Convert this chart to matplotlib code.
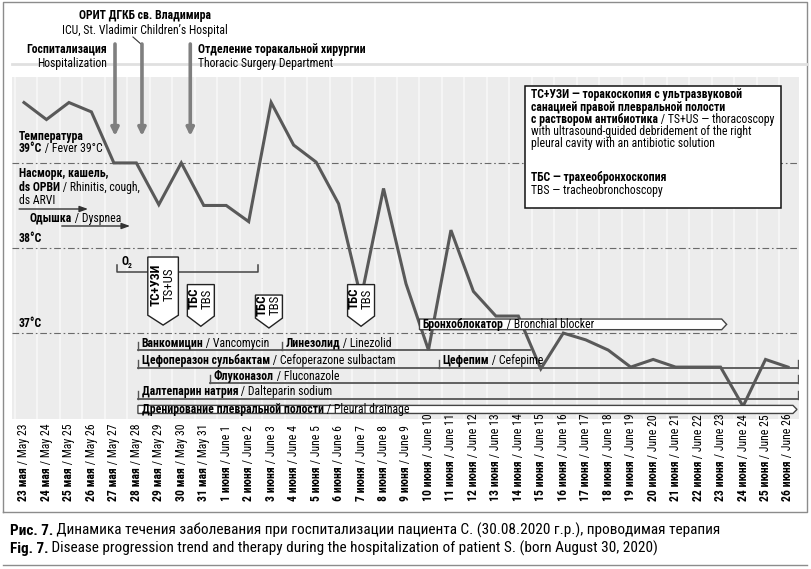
import matplotlib
matplotlib.use('Agg')
import matplotlib.pyplot as plt
from matplotlib import font_manager
from matplotlib.patches import Polygon, Rectangle
from matplotlib.transforms import blended_transform_factory

names = {f.name for f in font_manager.fontManager.ttflist}
if 'Liberation Sans Narrow' in names:
    FONT = 'Liberation Sans Narrow'
elif 'Roboto Condensed' in names:
    FONT = 'Roboto Condensed'
else:
    FONT = 'Liberation Sans'
plt.rcParams['font.family'] = [FONT, 'DejaVu Sans']
plt.rcParams['hatch.color'] = '#d3d3d3'
plt.rcParams['hatch.linewidth'] = 0.6

# ---------------- data ----------------
may_days = list(range(23, 32))
june_days = list(range(1, 27))
dates_ru = [f'{d} мая' for d in may_days] + [f'{d} июня' for d in june_days]
dates_en = [f'May {d}' for d in may_days] + [f'June {d}' for d in june_days]

temperature = [39.71, 39.51, 39.71, 39.60, 39.00, 39.00, 38.51, 39.00, 38.50,
               38.50, 38.31, 39.71, 39.21, 39.01, 38.52, 37.41, 38.70, 37.58,
               36.80, 38.21, 37.49, 37.20, 37.20, 36.58, 37.00, 36.92, 36.80,
               36.60, 36.69, 36.60, 36.60, 36.60, 36.14, 36.69, 36.60]

ref_temps = [39, 38, 37]

event_ru = ['Госпитализация', 'ОРИТ ДГКБ св. Владимира', 'Отделение торакальной хирургии']
event_en = ['Hospitalization', 'ICU, St. Vladimir Children\u2019s Hospital', 'Thoracic Surgery Department']
event_day = [4.05, 5.25, 7.40]

proc_ru = ['ТС+УЗИ', 'ТБС', 'ТБС', 'ТБС']
proc_en = ['TS+US', 'TBS', 'TBS', 'TBS']
proc_day = [6.19, 7.87, 10.90, 15.00]

o2_span = (4.14, 10.41)
rhinitis_span = (-0.22, 2.85)
dyspnea_span = (1.68, 4.72)
blocker_span = (17.60, 31.27)

therapy_ru = ['Ванкомицин', 'Линезолид', 'Цефоперазон сульбактам', 'Цефепим',
              'Флуконазол', 'Далтепарин натрия']
therapy_en = ['Vancomycin', 'Linezolid', 'Cefoperazone sulbactam', 'Cefepime',
              'Fluconazole', 'Dalteparin sodium']
therapy_start = [5.07, 11.47, 5.07, 18.47, 8.28, 5.07]
therapy_end = [11.47, 22.52, 18.47, 34.45, 34.45, 34.45]
therapy_row = [0, 0, 1, 1, 2, 3]
drainage_span = (5.07, 34.40)

# ---------------- layout ----------------
W, H = 812, 569
fig = plt.figure(figsize=(W / 100, H / 100), dpi=100)
fig.patch.set_facecolor('white')

ax = fig.add_axes([12 / W, 1 - 419 / H, (799 - 12) / W, (419 - 77) / H])
ax.set_xlim(-0.534, 34.49)
ax.set_ylim(35.99, 40.01)
ax.patch.set_facecolor('#ececec')
ax.patch.set_hatch('//////')
for s in ax.spines.values():
    s.set_visible(False)
ax.set_xticks([])
ax.set_yticks([])

n = len(temperature)
xs = list(range(n))
for d in xs:
    ax.axvline(d - 0.4, color='#f6f6f6', lw=1.3, zorder=0.5)

for t in ref_temps:
    ax.axhline(t, color='#6a6a6a', lw=0.8, ls=(0, (6, 2.5, 1.5, 2.5)), zorder=1)

ax.plot(xs, temperature, color='#595959', lw=2.2, zorder=3, solid_joinstyle='miter')

CH = 8.5  # chart font size
MK = 9.3  # marker font size
px_y = 1 / 85.0  # data units per pixel (vertical)

# procedure markers
for i, (ru, en, d) in enumerate(zip(proc_ru, proc_en, proc_day)):
    if i == 0:
        top, sh, tip, hw = 37.894, 37.21, 37.094, 0.68
    elif i == 2:
        top, sh, tip, hw = 37.447, 37.176, 37.06, 0.60
    else:
        top, sh, tip, hw = 37.57, 37.20, 37.08, 0.60
    poly = Polygon([(d - hw, top), (d + hw, top), (d + hw, sh), (d, tip), (d - hw, sh)],
                   closed=True, facecolor='white', edgecolor='#222', lw=1.0, zorder=5)
    ax.add_patch(poly)
    yc = (top + sh) / 2 + 0.02
    ax.text(d - 0.29, yc, ru, rotation=90, ha='center', va='center', fontsize=MK,
            fontweight='bold', zorder=6)
    ax.text(d + 0.27, yc, en, rotation=90, ha='center', va='center', fontsize=MK, zorder=6)

# O2 bracket
o2y = 37.72
ax.plot([o2_span[0], o2_span[0], o2_span[1], o2_span[1]],
        [o2y + 7 * px_y, o2y, o2y, o2y + 7 * px_y], color='#444', lw=1.1, zorder=2)
ax.text(o2_span[0] + 0.18, o2y + 10 * px_y, 'O', fontsize=CH, fontweight='bold', va='center', zorder=2)
ax.text(o2_span[0] + 0.48, o2y + 6.5 * px_y, '2', fontsize=5.5, fontweight='bold', va='center', zorder=2)


def arrow_bar(x0, x1, ytop, ybot, tipw, z):
    ym = (ytop + ybot) / 2
    p = Polygon([(x0, ytop), (x1 - tipw, ytop), (x1, ym), (x1 - tipw, ybot), (x0, ybot)],
                closed=True, facecolor='white', edgecolor='#444', lw=1.0, zorder=z)
    ax.add_patch(p)


def mixed(axis, x, y, bold, regular, size, transform=None, z=6, ha='left', va='center'):
    kw = {}
    if transform is not None:
        kw['transform'] = transform
    t1 = axis.text(x, y, bold, fontsize=size, fontweight='bold', ha=ha, va=va, zorder=z, **kw)
    if regular:
        axis.annotate(regular, xy=(1, 0), xycoords=t1, ha='left', va='bottom',
                      fontsize=size, zorder=z)
    return t1


# bronchial blocker
arrow_bar(blocker_span[0], blocker_span[1], 37.165, 37.04, 0.22, 5)
mixed(ax, blocker_span[0] + 0.15, 37.102, 'Бронхоблокатор', ' / Bronchial blocker', CH)

# therapy rows
row_y = [36.80, 36.594, 36.41, 36.23]
tick = 8 * px_y
for ru, en, s, e, r in zip(therapy_ru, therapy_en, therapy_start, therapy_end, therapy_row):
    y = row_y[r]
    ax.plot([s, e], [y, y], color='#555', lw=1.3, zorder=2)
    ax.plot([s, s], [y, y + tick], color='#555', lw=1.0, zorder=2)
    if e > 34:
        ax.plot([e, e], [y, y + tick], color='#555', lw=1.0, zorder=2)
    mixed(ax, s + 0.17, y + 7 * px_y, ru, ' / ' + en, CH, z=4)

arrow_bar(drainage_span[0], drainage_span[1], 36.15, 36.055, 0.18, 4)
mixed(ax, drainage_span[0] + 0.17, 36.103, 'Дренирование плевральной полости', ' / Pleural drainage', CH)

# ---------------- overlay (pixel coordinates) ----------------
ov = fig.add_axes([0, 0, 1, 1])
ov.set_xlim(0, W)
ov.set_ylim(H, 0)
ov.axis('off')
ov.patch.set_alpha(0)
bl = blended_transform_factory(ax.transData, ov.transData)

# frame
ov.plot([3, 3, 807, 807, 3], [512, 2, 2, 512, 512], color='#8c8c8c', lw=1.0)
ov.plot([12, 807], [64, 64], color='#e0e0e0', lw=2.0)
ov.plot([3, 807], [565, 565], color='#8c8c8c', lw=1.0)

# event arrows
for d in event_day:
    ov.annotate('', xy=(d, 136), xytext=(d, 44), xycoords=bl, textcoords=bl,
                arrowprops=dict(arrowstyle='-|>,head_length=0.45,head_width=0.22',
                                color='#7f7f7f', lw=2.6, shrinkA=0, shrinkB=0))
ov.text(107, 49, event_ru[0], fontsize=CH, fontweight='bold', ha='right', va='center')
ov.text(107, 63, event_en[0], fontsize=CH, ha='right', va='center')
ov.text(145, 15, event_ru[1], fontsize=CH, fontweight='bold', ha='center', va='center')
ov.text(145, 30, event_en[1], fontsize=CH, ha='center', va='center')
ov.plot([133, 142], [37, 45], color='#333', lw=0.8)
ov.text(198, 49, event_ru[2], fontsize=CH, fontweight='bold', ha='left', va='center')
ov.text(198, 63, event_en[2], fontsize=CH, ha='left', va='center')

# left labels
ov.text(19, 136, 'Температура', fontsize=CH, fontweight='bold', va='center')
mixed(ov, 19, 148, '39°C', ' / Fever 39°C', CH)
ov.text(19, 173, 'Насморк, кашель,', fontsize=CH, fontweight='bold', va='center')
mixed(ov, 19, 187, 'ds ОРВИ', ' / Rhinitis, cough,', CH)
ov.text(19, 200, 'ds ARVI', fontsize=CH, va='center')
for span, yy in ((rhinitis_span, 209), (dyspnea_span, 226)):
    ov.annotate('', xy=(span[1], yy), xytext=(span[0], yy), xycoords=bl, textcoords=bl,
                arrowprops=dict(arrowstyle='-|>,head_length=0.5,head_width=0.18',
                                color='#333', lw=1.0, shrinkA=0, shrinkB=0))
mixed(ov, 30, 218, 'Одышка', ' / Dyspnea', CH)
ov.text(19, 238, '38°C', fontsize=CH, fontweight='bold', va='center')
ov.text(19, 323, '37°C', fontsize=CH, fontweight='bold', va='center')

# legend box
ov.add_patch(Rectangle((525, 86), 256, 122, facecolor='white', edgecolor='#111', lw=1.1))
LX = 531
ov.text(LX, 94.5, 'ТС+УЗИ — торакоскопия с ультразвуковой', fontsize=CH, fontweight='bold', va='center')
ov.text(LX, 107, 'санацией правой плевральной полости', fontsize=CH, fontweight='bold', va='center')
mixed(ov, LX, 119, 'с раствором антибиотика', ' / TS+US — thoracoscopy', CH)
ov.text(LX, 131, 'with ultrasound-guided debridement of the right', fontsize=CH, va='center')
ov.text(LX, 143.5, 'pleural cavity with an antibiotic solution', fontsize=CH, va='center')
ov.text(LX, 177.5, 'ТБС — трахеобронхоскопия', fontsize=CH, fontweight='bold', va='center')
ov.text(LX, 190, 'TBS — tracheobronchoscopy', fontsize=CH, va='center')

# date labels
for d, ru, en in zip(xs, dates_ru, dates_en):
    t1 = ov.text(d, 501, ru, transform=bl, rotation=90, ha='center', va='bottom',
                 fontsize=CH, fontweight='bold')
    ov.annotate(' / ' + en, xy=(0.5, 1), xycoords=t1, rotation=90, ha='center',
                va='bottom', fontsize=CH)

# caption
CAP = 11.0
mixed(ov, 10, 531, 'Рис. 7.', ' Динамика течения заболевания при госпитализации пациента С. (30.08.2020 г.р.), проводимая терапия', CAP)
mixed(ov, 10, 549, 'Fig. 7.', ' Disease progression trend and therapy during the hospitalization of patient S. (born August 30, 2020)', CAP)

fig.savefig('out.png', dpi=100)
